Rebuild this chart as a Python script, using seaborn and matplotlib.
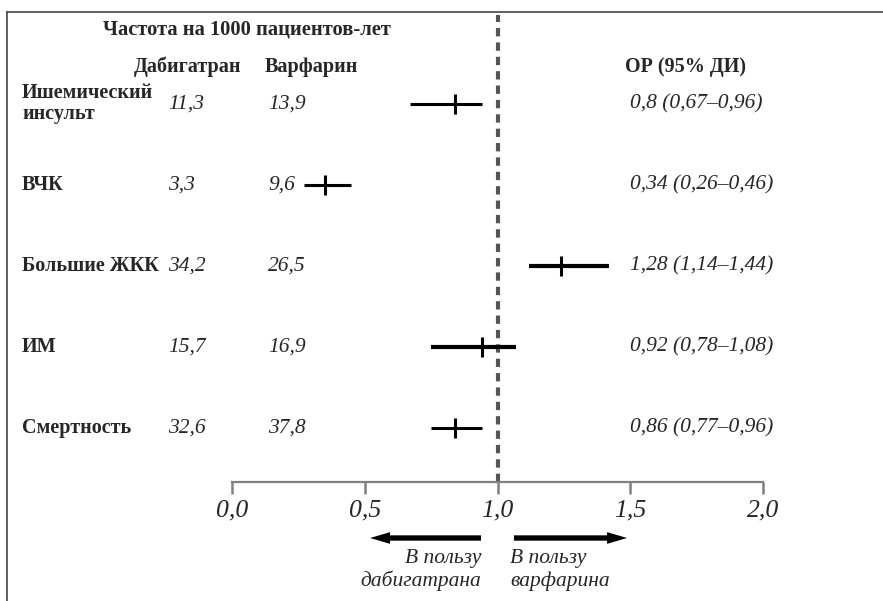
import matplotlib
matplotlib.use('Agg')
import matplotlib.pyplot as plt
import matplotlib.transforms as mtransforms
import numpy as np
import pandas as pd
import seaborn as sns


outcomes = ['Ишемический\nинсульт', 'ВЧК', 'Большие ЖКК', 'ИМ', 'Смертность']
dabigatran = [11.3, 3.3, 34.2, 15.7, 32.6]
warfarin = [13.9, 9.6, 26.5, 16.9, 37.8]

# HR (95% CI) as printed on the right
hr = [0.8, 0.34, 1.28, 0.92, 0.86]
hr_lo = [0.67, 0.26, 1.14, 0.78, 0.77]
hr_hi = [0.96, 0.46, 1.44, 1.08, 0.96]

# where the marks sit on the axis in the picture
mark_est = [0.84, 0.35, 1.24, 0.94, 0.84]
mark_lo = [0.67, 0.27, 1.12, 0.75, 0.75]
mark_hi = [0.94, 0.45, 1.42, 1.07, 0.94]

ticks = [0.0, 0.5, 1.0, 1.5, 2.0]
tick_labels = ['0,0', '0,5', '1,0', '1,5', '2,0']


def ru(v):
    return str(v).replace('.', ',')


df = pd.DataFrame({
    'outcome': outcomes,
    'row': np.arange(len(outcomes)),
    'est': mark_est,
    'lo': mark_lo,
    'hi': mark_hi,
})

sns.set_style('white')
plt.rcParams['font.family'] = ['Liberation Serif', 'DejaVu Serif']

W, H = 883, 601
fig = plt.figure(figsize=(W / 100, H / 100), dpi=100)

# frame (left + top line)
frame = fig.add_axes([7 / W, 0, 1, 1 - 12 / H])
frame.set_xticks([])
frame.set_yticks([])
frame.patch.set_alpha(0)
for s in ['right', 'bottom']:
    frame.spines[s].set_visible(False)
for s in ['left', 'top']:
    frame.spines[s].set_color('#444444')
    frame.spines[s].set_linewidth(1.2)

ax = fig.add_axes([232 / W, 1 - 482 / H, 531 / W, 482 / H])
ax.patch.set_alpha(0)

ax.axvline(1.0, ymin=0, ymax=(482 - 15) / 482, color='#555555', lw=3,
           linestyle=(0, (2.0, 1.45)), zorder=1)

ax.hlines(df['row'], df['lo'], df['hi'], color='black',
          lw=[2.2, 2.2, 3.0, 3.0, 2.2], zorder=3)
sns.scatterplot(data=df, x='est', y='row', marker='|', s=225, color='black',
                linewidth=2.2, ax=ax, legend=False, zorder=4)

ax.set_xlim(0, 2)
ax.set_ylim(4.666, -1.277)
ax.set_yticks([])
ax.set_xlabel('')
ax.set_ylabel('')
ax.set_xticks(ticks)
ax.set_xticklabels(tick_labels, fontstyle='italic', fontsize=18.5)
ax.tick_params(axis='x', direction='out', length=8.5, width=1.8,
               color='#808080', pad=4, bottom=True)
for s in ['left', 'right', 'top']:
    ax.spines[s].set_visible(False)
ax.spines['bottom'].set_color('#808080')
ax.spines['bottom'].set_linewidth(1.6)

row_tr = mtransforms.blended_transform_factory(fig.transFigure, ax.transData)
for i, name in enumerate(outcomes):
    ax.text(22 / W, i, name, transform=row_tr, fontweight='bold',
            fontsize=14.5, va='center', ha='left', linespacing=1.1)
    ax.text(168 / W, i, ru(dabigatran[i]), transform=row_tr,
            fontstyle='italic', fontsize=15.5, va='center', ha='left')
    ax.text(268 / W, i, ru(warfarin[i]), transform=row_tr,
            fontstyle='italic', fontsize=15.5, va='center', ha='left')
    ax.text(630 / W, i, f'{ru(hr[i])} ({ru(hr_lo[i])}–{ru(hr_hi[i])})',
            transform=row_tr, fontstyle='italic', fontsize=15.5,
            va='center', ha='left')

fig.text(103 / W, 1 - 35 / H, 'Частота на 1000 пациентов-лет',
         fontweight='bold', fontsize=14.8, va='baseline')
fig.text(134 / W, 1 - 72 / H, 'Дабигатран', fontweight='bold',
         fontsize=14.5, va='baseline')
fig.text(265 / W, 1 - 72 / H, 'Варфарин', fontweight='bold',
         fontsize=14.5, va='baseline')
fig.text(625 / W, 1 - 72 / H, 'ОР (95% ДИ)', fontweight='bold',
         fontsize=14.5, va='baseline')

# direction arrows under the axis
arr_tr = mtransforms.blended_transform_factory(ax.transData, fig.transFigure)
arrow_y = 1 - 538 / H
arrow_style = dict(arrowstyle='simple,head_length=1.2,head_width=0.7,tail_width=0.32',
                   mutation_scale=12, color='black', lw=0, shrinkA=0, shrinkB=0)
ax.annotate('', xy=(0.52, arrow_y), xytext=(0.938, arrow_y),
            xycoords=arr_tr, textcoords=arr_tr, arrowprops=arrow_style,
            annotation_clip=False)
ax.annotate('', xy=(1.488, arrow_y), xytext=(1.062, arrow_y),
            xycoords=arr_tr, textcoords=arr_tr, arrowprops=arrow_style,
            annotation_clip=False)
ax.text(0.938, 1 - 570 / H, 'В пользу\nдабигатрана', transform=arr_tr,
        fontstyle='italic', fontsize=15.5, ha='right', va='center',
        linespacing=1.2)
ax.text(1.047, 1 - 570 / H, 'В пользу\nварфарина', transform=arr_tr,
        fontstyle='italic', fontsize=15.5, ha='left', va='center',
        linespacing=1.2)

fig.savefig('out.png', dpi=100)
